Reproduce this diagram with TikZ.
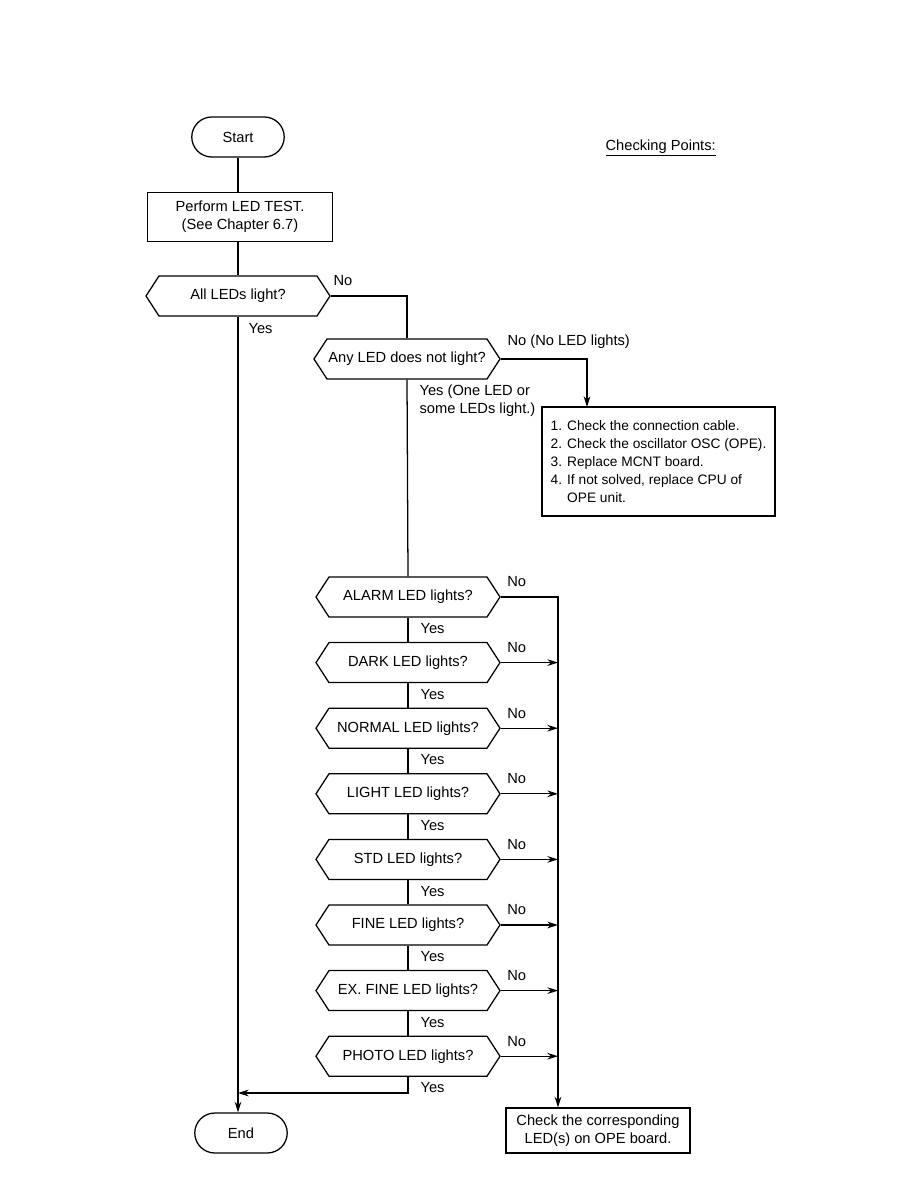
\documentclass[tikz,border=0pt]{standalone}
\usepackage{fontspec}
\setmainfont{Liberation Sans}
\usetikzlibrary{arrows.meta,positioning,shapes.symbols,shapes.misc,calc}

\begin{document}
\begin{tikzpicture}[x=0.75pt,y=-0.75pt,line width=0.95pt,
  txt/.style={font=\fontsize{11}{13.5}\selectfont},
  term/.style={draw,rounded rectangle,minimum width=76pt,minimum height=30pt,txt},
  procbox/.style={draw,minimum width=138.75pt,minimum height=36.75pt,align=center,inner sep=2pt,txt},
  decide/.style={draw,signal,signal to=west and east,signal pointer angle=114,minimum width=138pt,minimum height=30pt,inner sep=1pt,txt},
  lbl/.style={anchor=west,inner sep=0pt,txt},
  arr/.style={-{Stealth[length=8pt,width=5pt]}}]
  \useasboundingbox (0,0) rectangle (918,1188);
  % Top of the chart
  \node[term] (start) at (238,137) {Start};
  \node[procbox] (test) at (240,217) {Perform LED TEST.\\(See Chapter 6.7)};
  \node[decide] (all) at (238,296) {All LEDs light?};
  \node[decide] (any) at (407,359) {Any LED does not light?};
  \node[lbl,anchor=base west] at (605,150) {\underline{Checking Points:}};
  \node[draw,align=left,minimum width=174.75pt,minimum height=81.75pt,txt,font=\fontsize{10.3}{13.5}\selectfont] (fix) at (658.5,461.5)
    {1. Check the connection cable.\\2. Check the oscillator OSC (OPE).\\3. Replace MCNT board.\\4. If not solved, replace CPU of\\\phantom{4. }OPE unit.};
  \draw (start.south) -- (start.south |- test.north);
  \draw (start.south |- test.south) -- (all.north);
  \draw (all.east) -| (any.north);
  \coordinate (fixin) at (587,407);
  \draw[arr] (any.east) -| (fixin);
  \node[lbl] at (333,281) {No};
  \node[lbl] at (248,329) {Yes};
  \node[lbl] at (507,342) {No (No LED lights)};
  \node[lbl,anchor=north west,align=left] at (419,384) {Yes (One LED or\\some LEDs light.)};
  % LED checks
  \foreach \n [count=\i] in {ALARM,DARK,NORMAL,LIGHT,STD,FINE,EX. FINE,PHOTO}{
    \node[decide] (d\i) at (408,{597+65.6*(\i-1)}) {\n\ LED lights?};
    \node[lbl] at ($(d\i.east)+(6,-15)$) {No};
    \node[lbl] at ($(d\i.south)+(12,11)$) {Yes};
  }
  \draw (any.south) -- (d1.north);
  \foreach \i [evaluate=\i as \j using int(\i+1)] in {1,...,7}{
    \draw (d\i.south) -- (d\j.north);
  }
  \node[draw,align=center,minimum width=138pt,minimum height=33.75pt,txt] (led) at (598,1130.5)
    {Check the corresponding\\LED(s) on OPE board.};
  \coordinate (bus) at (558,597);
  \draw[arr] (d1.east) -- (bus) -- (bus |- led.north);
  \foreach \i in {2,...,8}{
    \draw[arr] (d\i.east) -- (bus |- d\i.east);
  }
  % End
  \node[term] (end) at (241,1133) {End};
  \draw[arr] (all.south) -- (all.south |- end.north);
  \coordinate (join) at (238,1093);
  \draw[arr] (d8.south) |- (join);
\end{tikzpicture}
\end{document}
